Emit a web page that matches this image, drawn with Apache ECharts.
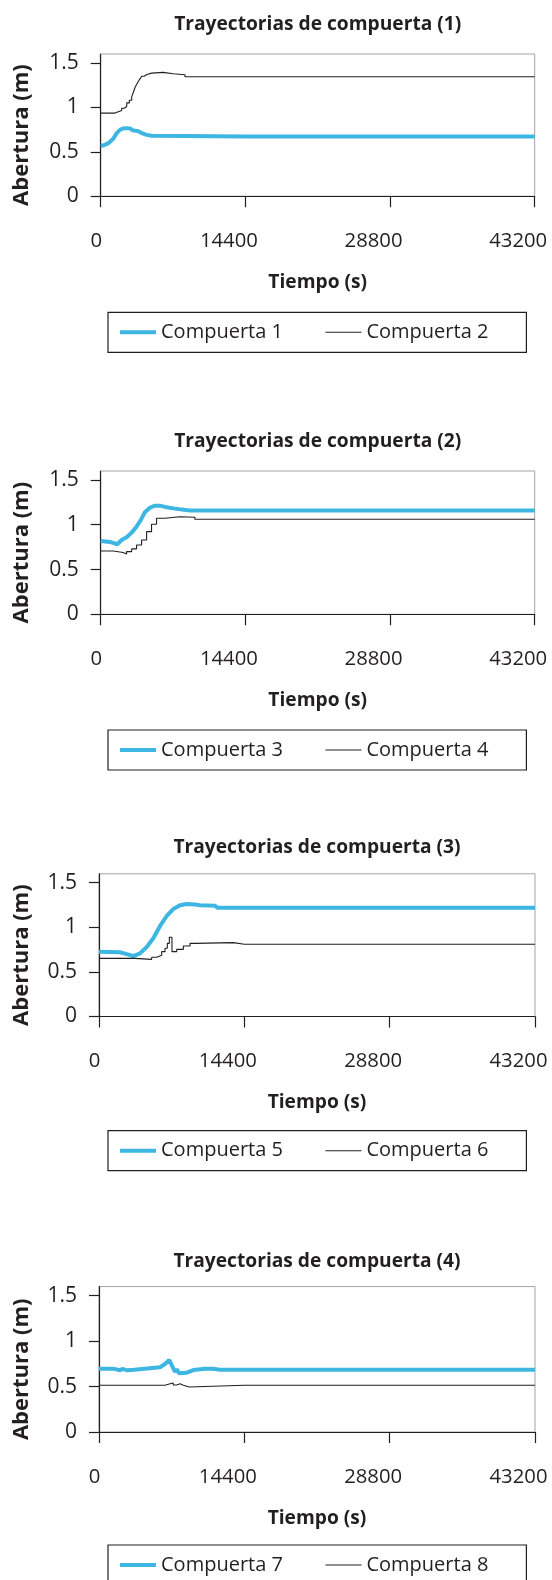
<!DOCTYPE html>
<html>
<head>
<meta charset="utf-8">
<script src="https://cdn.jsdelivr.net/npm/echarts@6/dist/echarts.min.js"></script>
<style>
  html, body { margin: 0; padding: 0; background: #ffffff; }
  #chart { width: 552px; height: 1580px; }
</style>
</head>
<body>
<div id="chart"></div>
<script>
// Panel titles and axis labels
const panelTitles = [
  'Trayectorias de compuerta (1)',
  'Trayectorias de compuerta (2)',
  'Trayectorias de compuerta (3)',
  'Trayectorias de compuerta (4)'
];
const xAxisTitle = 'Tiempo (s)';
const yAxisTitle = 'Abertura (m)';
const xTicks = [0, 14400, 28800, 43200];
const yTicks = [0, 0.5, 1, 1.5];
const gateNames = ['Compuerta 1', 'Compuerta 2', 'Compuerta 3', 'Compuerta 4',
                   'Compuerta 5', 'Compuerta 6', 'Compuerta 7', 'Compuerta 8'];

// Gate opening trajectories: time (s) and opening (m)
const g1t = [0, 260, 760, 1250, 1590, 1920, 2250, 2590, 2920, 3250, 3740, 4080, 4580, 5070, 5240, 14400, 28800, 43200];
const g1v = [0.57, 0.57, 0.597, 0.646, 0.71, 0.747, 0.762, 0.766, 0.762, 0.74, 0.732, 0.71, 0.69, 0.68, 0.672, 0.672, 0.672, 0.672];

const g2t = [0, 1420, 1750, 2090, 2350, 2590, 2850, 3085, 3250, 3410, 3580, 3740, 3910, 4080, 4330, 4580, 5070, 6230, 7220, 8390, 14400, 28800, 43200];
const g2v = [0.935, 0.95, 0.965, 0.99, 1.01, 1.05, 1.08, 1.12, 1.17, 1.22, 1.26, 1.29, 1.32, 1.35, 1.37, 1.385, 1.393, 1.378, 1.367, 1.344, 1.344, 1.344, 1.344];

const g3t = [0, 920, 1650, 2080, 2580, 3080, 3570, 4000, 4400, 4900, 5390, 5890, 6390, 7380, 8870, 14400, 28800, 43200];
const g3v = [0.819, 0.808, 0.782, 0.83, 0.86, 0.912, 0.979, 1.054, 1.14, 1.19, 1.213, 1.213, 1.199, 1.18, 1.16, 1.16, 1.16, 1.16];

const g4t = [0, 1250, 2240, 2580, 3080, 3570, 4070, 4570, 5060, 5560, 6390, 7880, 9370, 14400, 28800, 43200];
const g4v = [0.707, 0.69, 0.674, 0.70, 0.73, 0.774, 0.83, 0.923, 1.005, 1.072, 1.09, 1.084, 1.061, 1.061, 1.061, 1.061];

const g5t = [0, 2080, 2740, 3400, 4060, 4730, 5380, 6050, 6710, 7360, 8030, 8690, 9510, 10010, 11500, 11720, 14400, 28800, 43200];
const g5v = [0.727, 0.72, 0.70, 0.678, 0.708, 0.78, 0.877, 1.015, 1.127, 1.205, 1.247, 1.261, 1.256, 1.247, 1.243, 1.22, 1.22, 1.22, 1.22];

const g6t = [0, 3570, 5220, 5720, 6210, 6540, 6770, 6970, 7230, 7700, 8360, 9020, 9510, 13310, 14400, 28800, 43200];
const g6v = [0.652, 0.641, 0.664, 0.686, 0.727, 0.765, 0.82, 0.888, 0.727, 0.753, 0.79, 0.82, 0.828, 0.81, 0.81, 0.81, 0.81];

const g7t = [0, 1500, 2080, 2300, 2740, 2900, 3500, 6040, 6540, 6970, 7200, 7360, 7530, 7700, 7930, 8690, 9350, 10510, 11330, 11990, 14400, 28800, 43200];
const g7v = [0.695, 0.695, 0.68, 0.695, 0.68, 0.695, 0.686, 0.712, 0.748, 0.792, 0.737, 0.70, 0.663, 0.69, 0.646, 0.653, 0.682, 0.697, 0.697, 0.686, 0.686, 0.686, 0.686];

const g8t = [0, 6540, 7040, 7360, 7700, 8030, 8360, 8960, 14400, 28800, 43200];
const g8v = [0.514, 0.53, 0.54, 0.517, 0.53, 0.514, 0.495, 0.514, 0.514, 0.514, 0.514];

const gateTimes = [g1t, g2t, g3t, g4t, g5t, g6t, g7t, g8t];
const gateValues = [g1v, g2v, g3v, g4v, g5v, g6v, g7v, g8v];

// Styling
const BLUE = '#3db7e2';
const INK = '#231f20';
const FONT = '"Open Sans"';
const BLUE_W = 4;
const INK_W = 1.1;

// Plot rectangles of the four stacked panels
const panels = [
  { left: 100.7, top: 54,     width: 434, height: 142.2, titleY: 25,     legendTop: 312.3 },
  { left: 100.7, top: 471,    width: 434, height: 143.3, titleY: 441.7,  legendTop: 730 },
  { left: 99,    top: 873.8,  width: 436, height: 142.7, titleY: 847.3,  legendTop: 1130.7 },
  { left: 99,    top: 1286.6, width: 436, height: 145.4, titleY: 1261.7, legendTop: 1545 }
];

const grid = [], xAxis = [], yAxis = [], series = [], legend = [], graphic = [];

panels.forEach((p, i) => {
  grid.push({
    left: p.left, top: p.top, width: p.width, height: p.height,
    show: true, borderColor: '#a3a3a3', borderWidth: 1, backgroundColor: 'transparent'
  });
  xAxis.push({
    type: 'value', gridIndex: i, min: xTicks[0], max: xTicks[xTicks.length - 1],
    interval: xTicks[1] - xTicks[0],
    splitLine: { show: false },
    axisLine: { show: true, onZero: false, lineStyle: { color: INK, width: 1.2 } },
    axisTick: { show: true, inside: false, length: 11, lineStyle: { color: INK, width: 1.2 } },
    axisLabel: {
      margin: 35, fontFamily: FONT, fontSize: 20.3, color: INK,
      formatter: v => v === 0 ? '{z|0}' : '{n|' + v + '}',
      rich: {
        z: { fontFamily: FONT, fontSize: 20.3, color: INK, padding: [0, 9, 0, 0] },
        n: { fontFamily: FONT, fontSize: 20.3, color: INK, padding: [0, 33, 0, 0] }
      }
    }
  });
  yAxis.push({
    type: 'value', gridIndex: i, min: 0, max: 1.6, interval: 0.5,
    splitLine: { show: false },
    axisLine: { show: true, onZero: false, lineStyle: { color: INK, width: 1.2 } },
    axisTick: { show: true, inside: false, length: 10, customValues: yTicks, lineStyle: { color: INK, width: 1.2 } },
    axisLabel: { margin: 22, fontFamily: FONT, fontSize: 21, color: INK, customValues: yTicks }
  });

  // two gates per panel: thick blue first, thin black stepped second
  [0, 1].forEach(k => {
    const g = i * 2 + k;
    const data = gateTimes[g].map((t, j) => [t, gateValues[g][j]]);
    series.push({
      type: 'line', name: gateNames[g], xAxisIndex: i, yAxisIndex: i,
      data: data, symbol: 'none', showSymbol: false,
      step: k === 1 ? 'end' : false,
      color: k === 0 ? BLUE : INK,
      lineStyle: { color: k === 0 ? BLUE : INK, width: k === 0 ? BLUE_W : INK_W },
      z: k === 0 ? 2 : 3,
      animation: false
    });
  });

  legend.push({
    data: [
      { name: gateNames[i * 2], lineStyle: { width: BLUE_W, color: BLUE } },
      { name: gateNames[i * 2 + 1], lineStyle: { width: INK_W, color: INK } }
    ],
    left: 108, top: p.legendTop,
    orient: 'horizontal',
    itemWidth: 36, itemHeight: 14, itemGap: 42,
    padding: [10, 38, 10, 10],
    borderColor: INK, borderWidth: 1.2,
    itemStyle: { opacity: 0 },
    textStyle: { fontFamily: FONT, fontSize: 20, color: INK, lineHeight: 20 },
    selectedMode: false
  });

  const cx = p.left + p.width / 2;
  const cy = p.top + p.height / 2;
  const axisY = p.top + p.height;

  graphic.push({
    type: 'text', x: cx, y: p.titleY,
    style: { text: panelTitles[i], font: 'bold 19.2px ' + FONT, fill: INK, align: 'center', verticalAlign: 'middle' }
  });
  graphic.push({
    type: 'text', x: cx, y: axisY + 86.5,
    style: { text: xAxisTitle, font: 'bold 19.2px ' + FONT, fill: INK, align: 'center', verticalAlign: 'middle' }
  });
  graphic.push({
    type: 'text', x: 22, y: cy + 10, rotation: Math.PI / 2,
    style: { text: yAxisTitle, font: 'bold 22px ' + FONT, fill: INK, align: 'center', verticalAlign: 'middle' }
  });
});

const chart = echarts.init(document.getElementById('chart'), null, { renderer: 'canvas' });
chart.setOption({
  animation: false,
  backgroundColor: '#ffffff',
  grid, xAxis, yAxis, series, legend, graphic
});
</script>
</body>
</html>
